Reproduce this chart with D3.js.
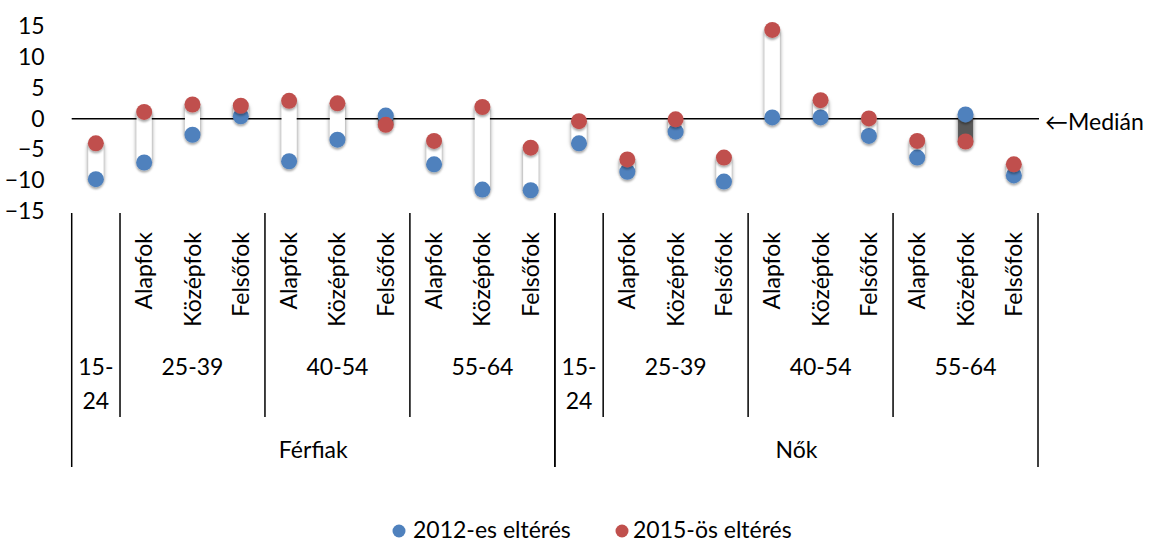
<!DOCTYPE html>
<html><head><meta charset="utf-8">
<script src="https://cdn.jsdelivr.net/npm/d3@7"></script>
<style>
body{margin:0;background:#fff;}
text{font-family:Lato,"Open Sans",sans-serif;fill:#000;}
</style>
</head><body>
<svg id="chart" width="1158" height="542"></svg>
<script>
// ---- data ----
const sexes = ["Férfiak", "Nők"];
const ageGroups = ["15-24", "25-39", "40-54", "55-64"];
const eduLevels = ["Alapfok", "Középfok", "Felsőfok"];
const series = ["2012-es eltérés", "2015-ös eltérés"];
const values2012 = [-9.8, -7.1, -2.6, 0.4, -6.9, -3.4, 0.5, -7.4, -11.5, -11.6,
                    -4.0, -8.6, -2.1, -10.2, 0.2, 0.2, -2.8, -6.3, 0.7, -9.2];
const values2015 = [-4.0, 1.1, 2.3, 2.1, 2.9, 2.5, -1.0, -3.6, 1.9, -4.7,
                    -0.4, -6.6, -0.1, -6.3, 14.4, 3.0, 0.05, -3.6, -3.7, -7.4];
const yTicks = [15, 10, 5, 0, -5, -10, -15];
const medianLabel = "←Medián";

// categories built from the label arrays
const categories = [];
sexes.forEach(s => ageGroups.forEach(a => {
  if (a === "15-24") categories.push({sex: s, age: a, edu: ""});
  else eduLevels.forEach(e => categories.push({sex: s, age: a, edu: e}));
}));
categories.forEach((c, i) => { c.v12 = values2012[i]; c.v15 = values2015[i]; c.i = i; });

const colors = {s12: "#4F81BD", s15: "#C0504D"};
const svg = d3.select("#chart");
const defs = svg.append("defs");
const f1 = defs.append("filter").attr("id", "barShadow")
  .attr("x", "-60%").attr("y", "-30%").attr("width", "220%").attr("height", "160%");
f1.append("feDropShadow").attr("dx", 0).attr("dy", 1.5).attr("stdDeviation", 2.3)
  .attr("flood-color", "#000").attr("flood-opacity", 0.55);
const f2 = defs.append("filter").attr("id", "dotShadow")
  .attr("x", "-60%").attr("y", "-60%").attr("width", "220%").attr("height", "220%");
f2.append("feDropShadow").attr("dx", 0).attr("dy", 2).attr("stdDeviation", 1.3)
  .attr("flood-color", "#000").attr("flood-opacity", 0.35);

const x = d3.scaleBand().domain(d3.range(categories.length)).range([71.7, 1038]).paddingInner(0).paddingOuter(0);
const y = d3.scaleLinear().domain([-15, 15]).range([211.2, 26.2]);
const cx = i => x(i) + x.bandwidth() / 2;
const FS = 23;

// y axis labels
const yAxis = svg.append("g").attr("transform", "translate(71.7,0)")
  .call(d3.axisLeft(y).tickValues(yTicks).tickSize(0).tickPadding(27).tickFormat(d3.format("d")));
yAxis.select(".domain").remove();
yAxis.selectAll("text").style("font-family", "Lato").style("font-size", FS + "px").attr("fill", "#000");

// zero (median) line
svg.append("line").attr("x1", 71.7).attr("x2", 1039).attr("y1", y(0)).attr("y2", y(0))
  .attr("stroke", "#000").attr("stroke-width", 1.6);
svg.append("text").attr("x", 1045).attr("y", y(0) + 3).attr("dy", "0.35em")
  .style("font-size", FS + "px").text(medianLabel);

// up/down bars
const bw = 15;
svg.append("g").selectAll("rect").data(categories).join("rect")
  .attr("x", d => cx(d.i) - bw / 2)
  .attr("width", bw)
  .attr("y", d => y(Math.max(d.v12, d.v15)))
  .attr("height", d => Math.abs(y(d.v12) - y(d.v15)))
  .attr("fill", d => d.v15 >= d.v12 ? "#FFFFFF" : "#595959")
  .attr("filter", "url(#barShadow)");

// dots
const r = 8;
svg.append("g").selectAll("circle").data(categories).join("circle")
  .attr("cx", d => cx(d.i)).attr("cy", d => y(d.v12)).attr("r", r)
  .attr("fill", colors.s12).attr("filter", "url(#dotShadow)");
svg.append("g").selectAll("circle").data(categories).join("circle")
  .attr("cx", d => cx(d.i)).attr("cy", d => y(d.v15)).attr("r", r)
  .attr("fill", colors.s15).attr("filter", "url(#dotShadow)");

// multi-level category axis
const axTop = 213, row2Bottom = 417, axBottom = 467;
const gx = svg.append("g");
// education labels (rotated)
gx.selectAll("text.edu").data(categories.filter(c => c.edu)).join("text")
  .attr("class", "edu")
  .attr("transform", d => `translate(${cx(d.i)},232) rotate(-90)`)
  .attr("text-anchor", "end").attr("dy", "0.35em")
  .style("font-size", FS + "px").text(d => d.edu);

// age groups
const groups = [];
sexes.forEach(s => ageGroups.forEach(a => {
  const idx = categories.filter(c => c.sex === s && c.age === a).map(c => c.i);
  groups.push({sex: s, age: a, x0: x(idx[0]), x1: x(idx[idx.length - 1]) + x.bandwidth()});
}));
groups.forEach(g => {
  const mid = (g.x0 + g.x1) / 2;
  if (g.age === "15-24") {
    const parts = ["15-", "24"];
    parts.forEach((p, k) => gx.append("text").attr("x", mid).attr("y", 367 + k * 34)
      .attr("text-anchor", "middle").attr("dy", "0.35em").style("font-size", FS + "px").text(p));
  } else {
    gx.append("text").attr("x", mid).attr("y", 367).attr("text-anchor", "middle")
      .attr("dy", "0.35em").style("font-size", FS + "px").text(g.age);
  }
});
// sex labels
sexes.forEach(s => {
  const gs = groups.filter(g => g.sex === s);
  const mid = (gs[0].x0 + gs[gs.length - 1].x1) / 2;
  gx.append("text").attr("x", mid).attr("y", 450).attr("text-anchor", "middle")
    .attr("dy", "0.35em").style("font-size", FS + "px").text(s);
});
// divider lines
const sexBounds = new Set();
sexes.forEach(s => {
  const gs = groups.filter(g => g.sex === s);
  sexBounds.add(gs[0].x0); sexBounds.add(gs[gs.length - 1].x1);
});
const innerBounds = groups.map(g => g.x0).filter(v => !sexBounds.has(v));
[...sexBounds].forEach(v => gx.append("line").attr("x1", v).attr("x2", v)
  .attr("y1", axTop).attr("y2", axBottom).attr("stroke", "#000").attr("stroke-width", 1.5));
innerBounds.forEach(v => gx.append("line").attr("x1", v).attr("x2", v)
  .attr("y1", axTop).attr("y2", row2Bottom).attr("stroke", "#000").attr("stroke-width", 1.5));

// legend
const legend = [{name: series[0], color: colors.s12, cx: 399, tx: 413},
                {name: series[1], color: colors.s15, cx: 622, tx: 633}];
legend.forEach(l => {
  svg.append("circle").attr("cx", l.cx).attr("cy", 531).attr("r", 6.5).attr("fill", l.color);
  svg.append("text").attr("x", l.tx).attr("y", 530).attr("dy", "0.35em")
    .style("font-size", FS + "px").text(l.name);
});
</script>
</body></html>
